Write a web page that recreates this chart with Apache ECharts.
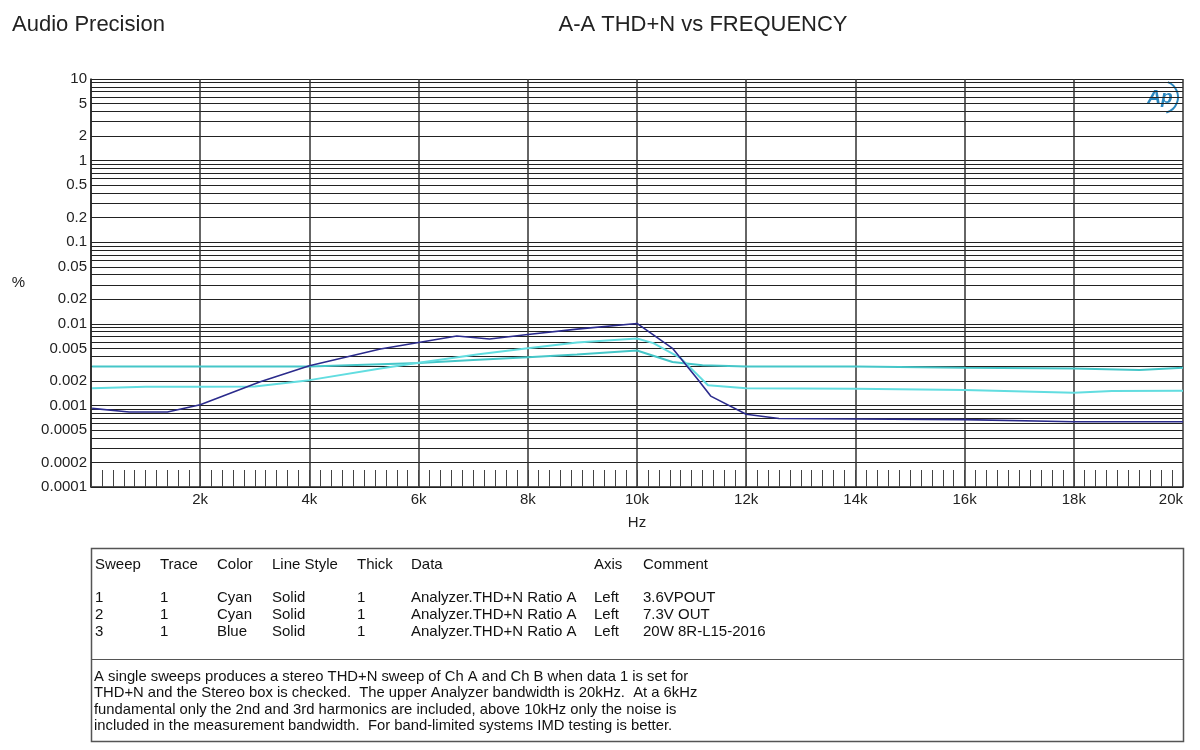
<!DOCTYPE html>
<html><head><meta charset="utf-8">
<script src="https://cdn.jsdelivr.net/npm/echarts@6/dist/echarts.min.js"></script>
<style>html,body{margin:0;padding:0;background:#fff}#c{width:1200px;height:750px}</style>
</head><body><div id="c"></div>
<script>
// ---- text ----
const brandText = 'Audio Precision';
const chartTitle = 'A-A THD+N vs FREQUENCY';
const yAxisName = '%';
const xAxisName = 'Hz';

// ---- axis ticks ----
const yLabelValues = [0.0001, 0.0002, 0.0005, 0.001, 0.002, 0.005, 0.01, 0.02, 0.05, 0.1, 0.2, 0.5, 1, 2, 5, 10];
const yDecades = [0.0001, 0.001, 0.01, 0.1, 1];
const yMultipliers = [1, 2, 3, 4, 5, 6, 7, 8, 9];

// ---- data: [Hz, %] ----
const sweep1_36V = [[20,0.0030],[1000,0.0030],[2000,0.0030],[3000,0.0030],[4000,0.0030],[5300,0.0032],[6000,0.0033],[7000,0.0036],[8000,0.0039],[8900,0.0042],[10000,0.0047],[10650,0.0034],[11200,0.0031],[12000,0.0030],[14000,0.0030],[16000,0.0029],[18000,0.00284],[19200,0.00271],[20000,0.0029]];
const sweep2_73V = [[20,0.00162],[1000,0.00169],[2000,0.00169],[3000,0.0017],[4000,0.00204],[5300,0.00284],[6000,0.00333],[7100,0.00423],[8000,0.0050],[8900,0.0059],[10000,0.0066],[10300,0.0058],[10800,0.0038],[11300,0.00177],[12000,0.00162],[14000,0.0016],[16000,0.00154],[18000,0.00143],[18700,0.0015],[20000,0.00151]];
const sweep3_20W = [[20,0.00092],[700,0.00083],[1400,0.00083],[2000,0.00102],[3100,0.00195],[4000,0.00306],[5300,0.0049],[6000,0.0059],[6700,0.0071],[7300,0.0065],[8000,0.0074],[8900,0.0086],[10000,0.0101],[10650,0.0050],[11100,0.00214],[11350,0.0013],[12000,0.00078],[12600,0.00069],[14000,0.00068],[16000,0.00067],[18000,0.00063],[20000,0.00063]];

// ---- table ----
const tableHeader = ['Sweep','Trace','Color','Line Style','Thick','Data','Axis','Comment'];
const tableRows = [
  ['1','1','Cyan','Solid','1','Analyzer.THD+N Ratio A','Left','3.6VPOUT'],
  ['2','1','Cyan','Solid','1','Analyzer.THD+N Ratio A','Left','7.3V OUT'],
  ['3','1','Blue','Solid','1','Analyzer.THD+N Ratio A','Left','20W 8R-L15-2016']
];
const noteLines = [
  'A single sweeps produces a stereo THD+N sweep of Ch A and Ch B when data 1 is set for',
  'THD+N and the Stereo box is checked.  The upper Analyzer bandwidth is 20kHz.  At a 6kHz',
  'fundamental only the 2nd and 3rd harmonics are included, above 10kHz only the noise is',
  'included in the measurement bandwidth.  For band-limited systems IMD testing is better.'
];

const yGridValues = [];
yDecades.forEach(d => yMultipliers.forEach(m => yGridValues.push(+(d * m).toPrecision(3))));
yGridValues.push(10);

const FONT = '"Liberation Sans", Arial, sans-serif';
const colX = [95, 160, 217, 272, 357, 411, 594, 643];
const graphics = [];
graphics.push({type:'text', x: 12, y: 25, style:{text: brandText, font: '22px ' + FONT, fill:'#222', verticalAlign:'middle'}});
graphics.push({type:'text', x: 703, y: 25, style:{text: chartTitle, font: '22px ' + FONT, fill:'#222', align:'center', verticalAlign:'middle'}});
// logo
graphics.push({type:'text', x: 1160, y: 98, style:{text:'Ap', font:'italic bold 19px ' + FONT, fill:'#2a86bd', align:'center', verticalAlign:'middle'}});
graphics.push({type:'arc', shape:{cx:1162, cy:97, r:16, startAngle:-1.2, endAngle:1.3}, style:{stroke:'#2a86bd', lineWidth:2, fill:null}});
// table
graphics.push({type:'rect', shape:{x:91.5, y:548.5, width:1092, height:193}, style:{stroke:'#555', lineWidth:1.5, fill:'#fff'}});
graphics.push({type:'line', shape:{x1:91.5, y1:659.5, x2:1183.5, y2:659.5}, style:{stroke:'#555', lineWidth:1.2}});
tableHeader.forEach((t,i) => graphics.push({type:'text', x: colX[i], y: 564.5, style:{text:t, font:'15px ' + FONT, fill:'#111', verticalAlign:'middle'}}));
tableRows.forEach((row,r) => row.forEach((t,i) => graphics.push({type:'text', x: colX[i], y: 597.5 + r*17, style:{text:t, font:'15px ' + FONT, fill:'#111', verticalAlign:'middle'}})));
noteLines.forEach((t,r) => graphics.push({type:'text', x: 94, y: 677 + r*16.3, style:{text:t, font:'14.8px ' + FONT, fill:'#111', verticalAlign:'middle'}}));

const chart = echarts.init(document.getElementById('c'), null, {renderer:'canvas'});
chart.setOption({
  animation: false,
  backgroundColor: '#fff',
  grid: {left: 91, top: 79, right: 17, bottom: 263, containLabel: false},
  xAxis: {
    type: 'value', min: 0, max: 20000, interval: 2000,
    name: xAxisName, nameLocation: 'middle', nameGap: 28,
    nameTextStyle: {fontFamily: FONT, fontSize: 15, color: '#222'},
    axisLine: {show: true, lineStyle: {color: '#222', width: 1.5}},
    axisTick: {show: true, inside: true, length: 17, lineStyle: {color: '#444'}},
    minorTick: {show: true, splitNumber: 10, length: 17, lineStyle: {color: '#444', width: 1}},
    splitLine: {show: true, lineStyle: {color: '#333', width: 1.5}},
    axisLabel: {fontFamily: FONT, fontSize: 15, color: '#222', margin: 5, alignMaxLabel: 'right',
      formatter: v => v === 0 ? '' : (v/1000) + 'k'}
  },
  yAxis: {
    type: 'log', logBase: 10, min: 0.0001, max: 10,
    name: yAxisName, nameLocation: 'middle', nameGap: 66, nameRotate: 0,
    nameTextStyle: {fontFamily: FONT, fontSize: 15, color: '#222'},
    axisLine: {show: true, lineStyle: {color: '#222', width: 1.5}},
    axisTick: {show: false, customValues: yGridValues},
    splitLine: {show: true, lineStyle: {color: '#222', width: 1}},
    axisLabel: {customValues: yLabelValues, fontFamily: FONT, fontSize: 15, color: '#222', margin: 4,
      formatter: v => String(+(+v).toPrecision(3))}
  },
  graphic: graphics,
  series: [
    {name:'3.6VPOUT', type:'line', data: sweep1_36V, showSymbol:false, smooth:false, lineStyle:{color:'#45c6c8', width:2}},
    {name:'7.3V OUT', type:'line', data: sweep2_73V, showSymbol:false, smooth:false, lineStyle:{color:'#62dde0', width:2}},
    {name:'20W 8R-L15-2016', type:'line', data: sweep3_20W, showSymbol:false, smooth:false, lineStyle:{color:'#2b2b8c', width:1.6}}
  ]
});
</script></body></html>
